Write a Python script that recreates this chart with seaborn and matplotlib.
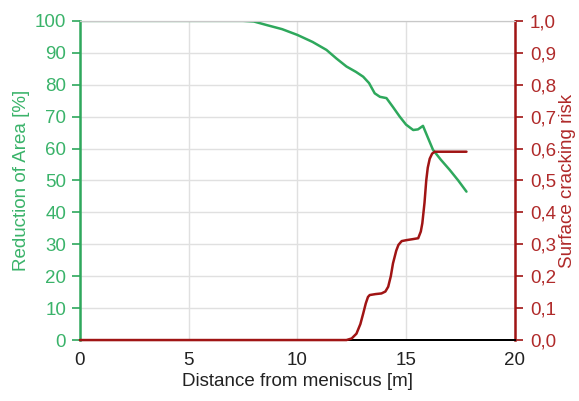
import numpy as np
import pandas as pd
import seaborn as sns
from matplotlib import pyplot as plt
from matplotlib.ticker import MultipleLocator, FuncFormatter

# values
dist_ra = [0, 2, 4, 6, 7.5, 8.0, 8.58, 9.3, 10.0, 10.7, 11.34, 11.8, 12.26, 12.7, 13.03, 13.3,
           13.56, 13.8, 14.1, 14.4, 14.71, 15.0, 15.33, 15.55, 15.78, 16.0, 16.24, 16.6, 17.01, 17.4, 17.78]
reduction_area = [100, 100, 100, 100, 100, 99.8, 98.7, 97.4, 95.6, 93.4, 90.9, 88.2, 85.7, 84.0, 82.5, 80.5,
                  77.3, 76.2, 75.8, 73.0, 70.0, 67.5, 65.8, 66.0, 67.1, 63.5, 59.6, 56.5, 53.3, 50.0, 46.5]

dist_risk = [0, 6, 12.26, 12.5, 12.72, 12.9, 13.03, 13.15, 13.25, 13.33, 13.6, 13.87, 14.05, 14.18, 14.3,
             14.4, 14.55, 14.65, 14.8, 15.02, 15.3, 15.56, 15.68, 15.75, 15.85, 15.93, 16.0, 16.09, 16.2, 16.32,
             17.0, 17.78]
crack_risk = [0, 0, 0, 0.005, 0.02, 0.05, 0.083, 0.115, 0.135, 0.141, 0.144, 0.146, 0.152, 0.167, 0.2,
              0.24, 0.28, 0.298, 0.31, 0.313, 0.316, 0.319, 0.34, 0.366, 0.43, 0.50, 0.54, 0.568, 0.584, 0.59,
              0.59, 0.59]

green = "#2ea85c"
green_txt = "#3ab36a"
red = "#a01414"
red_txt = "#b02a2a"

sns.set_style("white")
plt.rcParams["font.family"] = ["Liberation Sans", "DejaVu Sans"]
plt.rcParams["font.size"] = 13.5

df_ra = pd.DataFrame({"dist": dist_ra, "ra": reduction_area})
df_risk = pd.DataFrame({"dist": dist_risk, "risk": crack_risk})

fig, ax = plt.subplots(figsize=(5.79, 4.01), dpi=100)
fig.subplots_adjust(left=0.138, right=0.889, top=0.948, bottom=0.152)

ax2 = ax.twinx()
sns.lineplot(data=df_ra, x="dist", y="ra", ax=ax, color=green, lw=1.8, zorder=3)
sns.lineplot(data=df_risk, x="dist", y="risk", ax=ax2, color=red, lw=1.8, clip_on=False, zorder=3)

ax.set_xlim(0, 20)
ax.set_ylim(0, 100)
ax2.set_ylim(0, 1)
ax.xaxis.set_major_locator(MultipleLocator(5))
ax.xaxis.set_minor_locator(MultipleLocator(1))
ax.yaxis.set_major_locator(MultipleLocator(10))
ax2.yaxis.set_major_locator(MultipleLocator(0.1))
ax2.yaxis.set_major_formatter(FuncFormatter(lambda v, p: f"{v:.1f}".replace(".", ",")))

ax.grid(True, color="#e0e0e0", lw=1.0)
ax.set_axisbelow(True)

ax.set_xlabel("Distance from meniscus [m]", color="#222222", labelpad=3)
ax.set_ylabel("Reduction of Area [%]", color=green_txt, labelpad=3)
ax2.set_ylabel("Surface cracking risk", color=red_txt, labelpad=2)

ax.tick_params(axis="x", which="major", direction="out", length=5, width=1.2, color="black", colors="#222222")
ax.tick_params(axis="x", which="minor", direction="out", length=3, width=1.2, color="black")
ax.tick_params(axis="y", direction="out", length=6, width=1.2, color=green, labelcolor=green_txt, pad=4)
ax2.tick_params(axis="y", direction="out", length=6, width=1.2, color=red, labelcolor=red_txt, pad=5)

for a in (ax, ax2):
    a.spines["top"].set_color("#c8c8c8")
    a.spines["bottom"].set_color("black")
    a.spines["bottom"].set_linewidth(1.4)
ax.spines["left"].set_color(green)
ax.spines["left"].set_linewidth(1.8)
ax2.spines["left"].set_visible(False)
ax.spines["right"].set_visible(False)
ax2.spines["right"].set_color(red)
ax2.spines["right"].set_linewidth(1.8)

ax.set_zorder(ax2.get_zorder() - 1)
ax2.patch.set_visible(False)
ax.patch.set_visible(True)

plt.savefig("out.png", dpi=100)
